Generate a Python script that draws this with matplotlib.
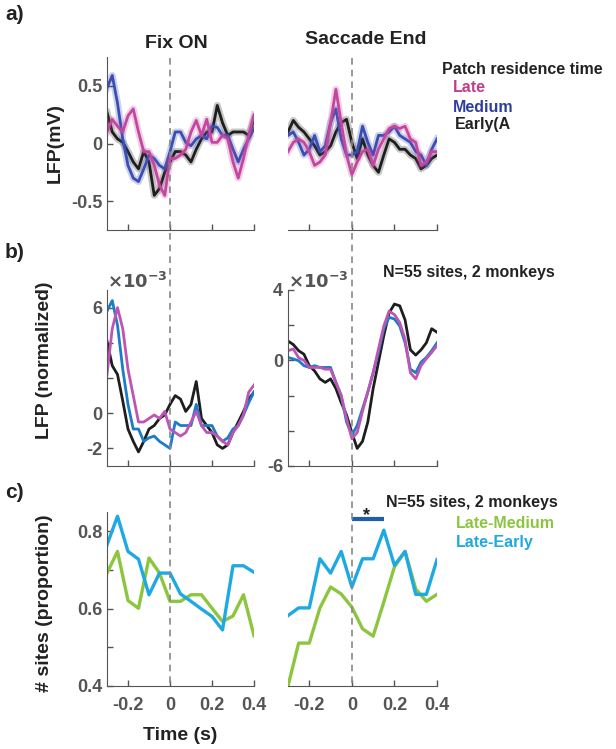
import numpy as np
import matplotlib
matplotlib.use('Agg')
import matplotlib.pyplot as plt
from matplotlib.lines import Line2D
from matplotlib import transforms

plt.rcParams['font.family'] = ['Liberation Sans', 'DejaVu Sans']
plt.rcParams['font.weight'] = 'bold'
plt.rcParams['mathtext.default'] = 'bf'

# time grids (s)
t_lfp = np.linspace(-0.3, 0.4, 29)
t_prop = np.linspace(-0.3, 0.4, 15)

# a) raw LFP (mV), Fix ON
a_fix_late = [0.10, 0.21, 0.15, 0.10, 0.24, 0.30, 0.10, -0.07, -0.07, -0.19, -0.36, -0.45, -0.13,
              -0.13, -0.10, -0.05, 0.10, 0.20, 0.07, 0.21, 0.01, 0.01, 0.07, 0.04, -0.16, -0.30,
              -0.13, 0.07, 0.25]
a_fix_medium = [0.48, 0.59, 0.35, 0.04, -0.19, -0.30, -0.33, -0.22, -0.10, -0.13, -0.19, -0.22,
                -0.07, 0.10, 0.10, 0.01, -0.02, 0.04, 0.07, 0.04, 0.15, 0.14, 0.07, 0.07, -0.05,
                -0.16, -0.05, 0.04, 0.13]
a_fix_early = [0.27, 0.10, 0.04, 0.01, -0.07, -0.16, -0.22, -0.07, -0.16, -0.45, -0.39, -0.25,
               -0.16, -0.07, -0.07, -0.10, -0.16, -0.05, 0.04, 0.10, 0.10, 0.33, 0.18, 0.07, 0.10,
               0.10, 0.10, 0.07, 0.21]
# a) raw LFP (mV), Saccade End
a_sac_late = [-0.07, 0.01, 0.04, 0.01, -0.07, -0.19, -0.16, -0.10, 0.18, 0.47, 0.18, -0.10, -0.27,
              -0.16, -0.07, -0.05, -0.19, -0.05, 0.04, 0.13, 0.15, 0.13, 0.15, 0.04, 0.01, -0.19,
              -0.16, -0.07, -0.07]
a_sac_medium = [0.07, 0.10, 0.01, -0.10, -0.05, 0.07, -0.07, -0.02, 0.18, 0.30, 0.04, -0.10, -0.10,
                -0.07, 0.15, 0.01, -0.10, 0.07, 0.07, 0.10, 0.15, 0.07, 0.04, 0.01, -0.07, -0.10,
                -0.19, -0.05, 0.04]
a_sac_early = [0.10, 0.20, 0.14, 0.10, 0.04, -0.02, -0.10, -0.07, -0.02, 0.10, 0.18, 0.21, 0.01,
               -0.13, 0.04, -0.10, -0.19, -0.25, -0.10, 0.04, 0.01, -0.05, -0.05, -0.10, -0.13,
               -0.22, -0.19, -0.13, -0.10]

# b) normalized LFP (x1e-3), Fix ON
b_fix_late = [2.2, 4.8, 6.0, 4.8, 2.5, 1.0, -0.5, -0.5, -0.3, -0.1, -0.3, 0.1, -0.9, -1.1, -1.3,
              -1.1, -0.5, 0.1, -0.7, -1.1, -1.1, -1.3, -1.6, -1.8, -1.1, -0.7, -0.1, 1.2, 1.6]
b_fix_medium = [5.8, 6.4, 5.0, 2.5, 0.5, -0.9, -0.9, -1.6, -1.4, -1.3, -1.6, -1.8, -2.0, -0.5, -0.7,
                -0.7, -0.7, 0.5, -0.7, -0.7, -0.7, -1.3, -1.6, -1.4, -0.9, -0.7, -0.1, 0.6, 1.2]
b_fix_early = [4.1, 2.7, 2.2, 0.7, -0.9, -1.6, -2.2, -1.6, -0.9, -0.7, -0.3, -0.1, 0.5, 1.0, 0.8,
               0.1, 0.5, 1.8, -0.3, -0.7, -1.1, -1.8, -2.0, -1.8, -1.1, -0.5, 0.1, 0.8, 1.2]
# b) normalized LFP (x1e-3), Saccade End
b_sac_late = [0.55, 0.65, 0.15, 0.0, -0.4, -0.4, -0.4, -0.5, -0.5, -1.25, -2.0, -3.3, -4.45, -4.1,
              -2.9, -1.8, -0.7, 0.65, 1.95, 2.8, 2.6, 2.15, 1.2, -0.7, -1.05, -0.3, 0.1, 0.45, 0.85]
b_sac_medium = [0.17, 0.08, -0.02, -0.3, -0.4, -0.3, -0.4, -0.4, -0.4, -1.25, -2.0, -3.5, -4.25,
                -3.7, -2.75, -1.8, -0.7, 0.45, 1.8, 2.45, 2.35, 1.95, 1.0, -0.5, -0.7, -0.1, 0.17,
                0.55, 1.0]
b_sac_early = [1.1, 0.9, 0.55, 0.35, -0.3, -0.6, -1.05, -1.25, -1.05, -1.6, -2.4, -3.1, -4.1, -5.0,
               -4.6, -3.5, -1.6, -0.1, 1.4, 2.7, 3.2, 3.1, 2.3, 0.6, 0.3, 0.6, 1.0, 1.8, 1.6]

# c) proportion of sites
c_fix_late_medium = [0.692, 0.748, 0.621, 0.601, 0.731, 0.692, 0.619, 0.619, 0.636, 0.636, 0.601,
                     0.567, 0.581, 0.636, 0.530]
c_fix_late_early = [0.765, 0.839, 0.748, 0.728, 0.636, 0.692, 0.692, 0.638, 0.619, 0.599, 0.580,
                    0.545, 0.711, 0.711, 0.694]
c_sac_late_medium = [0.400, 0.511, 0.511, 0.602, 0.656, 0.638, 0.604, 0.548, 0.529, 0.617, 0.708,
                     0.748, 0.651, 0.619, 0.637]
c_sac_late_early = [0.582, 0.602, 0.602, 0.729, 0.692, 0.748, 0.656, 0.729, 0.729, 0.803, 0.712,
                    0.748, 0.637, 0.637, 0.727]
sig_window = [0.0, 0.15]
sig_level = 0.832

GREY = '#555555'
col_a = {'late': '#c4479f', 'medium': '#3a4db3', 'early': '#1e1e1e'}
col_b = {'late': '#bd55b5', 'medium': '#1c7cc6', 'early': '#1e1e1e'}
col_lm = '#8cc63f'
col_le = '#1ea9e2'

W, H = 616, 749
fig = plt.figure(figsize=(W / 100, H / 100), dpi=100)


def px_axes(x0, x1, y0, y1):
    return fig.add_axes([x0 / W, 1 - y1 / H, (x1 - x0) / W, (y1 - y0) / H])


def style(ax, yaxis=True):
    for s in ['top', 'right']:
        ax.spines[s].set_visible(False)
    ax.spines['bottom'].set_color(GREY)
    ax.spines['left'].set_color(GREY)
    ax.spines['left'].set_visible(yaxis)
    ax.set_xlim(-0.3, 0.4)
    ax.set_xticks([-0.2, 0, 0.2, 0.4])
    ax.tick_params(direction='in', length=4, color=GREY, labelcolor=GREY,
                   labelsize=13, width=1)
    if not yaxis:
        ax.set_yticks([])
    for lab in ax.get_xticklabels() + ax.get_yticklabels():
        lab.set_fontweight('bold')
    ax.patch.set_alpha(0)


def trace(ax, x, y, color, lw):
    # light band under the mean trace, like the SEM shading
    ax.plot(x, y, color=color, lw=lw + 3, alpha=0.25, solid_joinstyle='round')
    ax.plot(x, y, color=color, lw=lw)


lx0, lx1 = 107, 254
rx0, rx1 = 288, 437
rows = {'a': (57, 230), 'b': (290, 466), 'c': (512, 686)}

ax_a1 = px_axes(lx0, lx1, *rows['a'])
ax_a2 = px_axes(rx0, rx1, *rows['a'])
ax_b1 = px_axes(lx0, lx1, *rows['b'])
ax_b2 = px_axes(rx0, rx1, *rows['b'])
ax_c1 = px_axes(lx0, lx1, *rows['c'])
ax_c2 = px_axes(rx0, rx1, *rows['c'])

# panel a
for ax, late, med, early in [(ax_a1, a_fix_late, a_fix_medium, a_fix_early),
                             (ax_a2, a_sac_late, a_sac_medium, a_sac_early)]:
    trace(ax, t_lfp, early, col_a['early'], 2.0)
    trace(ax, t_lfp, med, col_a['medium'], 2.0)
    trace(ax, t_lfp, late, col_a['late'], 2.0)
    ax.set_ylim(-0.75, 0.75)
style(ax_a1)
style(ax_a2, yaxis=False)
ax_a1.set_yticks([-0.5, 0, 0.5])
ax_a1.set_yticklabels(['-0.5', '0', '0.5'], fontweight='bold')
ax_a1.set_xticklabels([])
ax_a2.set_xticklabels([])

# panel b
for ax, late, med, early in [(ax_b1, b_fix_late, b_fix_medium, b_fix_early),
                             (ax_b2, b_sac_late, b_sac_medium, b_sac_early)]:
    ax.plot(t_lfp, early, color=col_b['early'], lw=2.0)
    ax.plot(t_lfp, med, color=col_b['medium'], lw=2.0)
    ax.plot(t_lfp, late, color=col_b['late'], lw=2.0)
style(ax_b1)
style(ax_b2)
ax_b1.set_ylim(-3, 7)
ax_b1.set_yticks([-2, 0, 2, 4, 6])
ax_b1.set_yticklabels(['-2', '0', '', '', '6'], fontweight='bold')
ax_b2.set_ylim(-6, 4)
ax_b2.set_yticks([-6, -4, -2, 0, 2, 4])
ax_b2.set_yticklabels(['-6', '', '', '0', '', '4'], fontweight='bold')
ax_b1.set_xticklabels([])
ax_b2.set_xticklabels([])
for ax in [ax_b1, ax_b2]:
    ax.text(0.0, 0.99, r'$\times\mathbf{10}^{\mathbf{-3}}$', transform=ax.transAxes,
            color=GREY, fontsize=13, ha='left', va='bottom')

# panel c
for ax, lm, le in [(ax_c1, c_fix_late_medium, c_fix_late_early),
                   (ax_c2, c_sac_late_medium, c_sac_late_early)]:
    ax.plot(t_prop, lm, color=col_lm, lw=2.4)
    ax.plot(t_prop, le, color=col_le, lw=2.4)
    ax.set_ylim(0.4, 0.85)
style(ax_c1)
style(ax_c2, yaxis=False)
ax_c1.set_yticks([0.4, 0.5, 0.6, 0.7, 0.8])
ax_c1.set_yticklabels(['0.4', '', '0.6', '', '0.8'], fontweight='bold')
for ax in [ax_c1, ax_c2]:
    ax.set_xticklabels(['-0.2', '0', '0.2', '0.4'], fontweight='bold')
    ax.tick_params(axis='x', pad=8)
ax_c2.plot(sig_window, [sig_level, sig_level], color='#1f5fa8', lw=3, clip_on=False,
           solid_capstyle='butt')
ax_c2.text(0.07, sig_level + 0.008, '*', color='#222222', fontsize=13,
           ha='center', va='center', clip_on=False)

# dashed event lines spanning the rows
for ax in [ax_c1, ax_c2]:
    tr = transforms.blended_transform_factory(ax.transData, fig.transFigure)
    fig.add_artist(Line2D([0, 0], [1 - 58 / H, 1 - 686 / H], transform=tr, color='#888888',
                          lw=1.2, ls=(0, (4, 3))))

# text
fig.text(176 / W, 1 - 43 / H, 'Fix ON', fontsize=14, ha='center', va='center', color='#222222')
fig.text(366 / W, 1 - 40 / H, 'Saccade End', fontsize=14, ha='center', va='center',
         color='#222222')
fig.text(5 / W, 1 - 15 / H, 'a)', fontsize=15, ha='left', va='center', color='#222222')
fig.text(5 / W, 1 - 252 / H, 'b)', fontsize=15, ha='left', va='center', color='#222222')
fig.text(5 / W, 1 - 492 / H, 'c)', fontsize=15, ha='left', va='center', color='#222222')

fig.text(55 / W, 1 - 143 / H, 'LFP(mV)', rotation=90, fontsize=14, ha='center', va='center',
         color='#222222')
fig.text(45 / W, 1 - 360 / H, 'LFP (normalized)', rotation=90, fontsize=14, ha='center',
         va='center', color='#222222')
fig.text(45 / W, 1 - 603 / H, '# sites (proportion)', rotation=90, fontsize=14, ha='center',
         va='center', color='#222222')
fig.text(180 / W, 1 - 735 / H, 'Time (s)', fontsize=14, ha='center', va='center',
         color='#222222')

fig.text(442 / W, 1 - 69 / H, 'Patch residence time', fontsize=11.5, ha='left', va='center',
         color='#222222')
fig.text(453 / W, 1 - 87 / H, 'Late', fontsize=11.5, ha='left', va='center', color='#c23b8e')
fig.text(453 / W, 1 - 107 / H, 'Medium', fontsize=11.5, ha='left', va='center', color='#2e3e9e')
fig.text(455 / W, 1 - 125 / H, 'Early(A', fontsize=11.5, ha='left', va='center', color='#222222')

fig.text(383 / W, 1 - 273 / H, 'N=55 sites, 2 monkeys', fontsize=11.5, ha='left', va='center',
         color='#222222')
fig.text(386 / W, 1 - 502 / H, 'N=55 sites, 2 monkeys', fontsize=11.5, ha='left', va='center',
         color='#222222')
fig.text(456 / W, 1 - 524 / H, 'Late-Medium', fontsize=11.5, ha='left', va='center',
         color=col_lm)
fig.text(456 / W, 1 - 543 / H, 'Late-Early', fontsize=11.5, ha='left', va='center',
         color=col_le)

fig.savefig('out.png', dpi=100)
